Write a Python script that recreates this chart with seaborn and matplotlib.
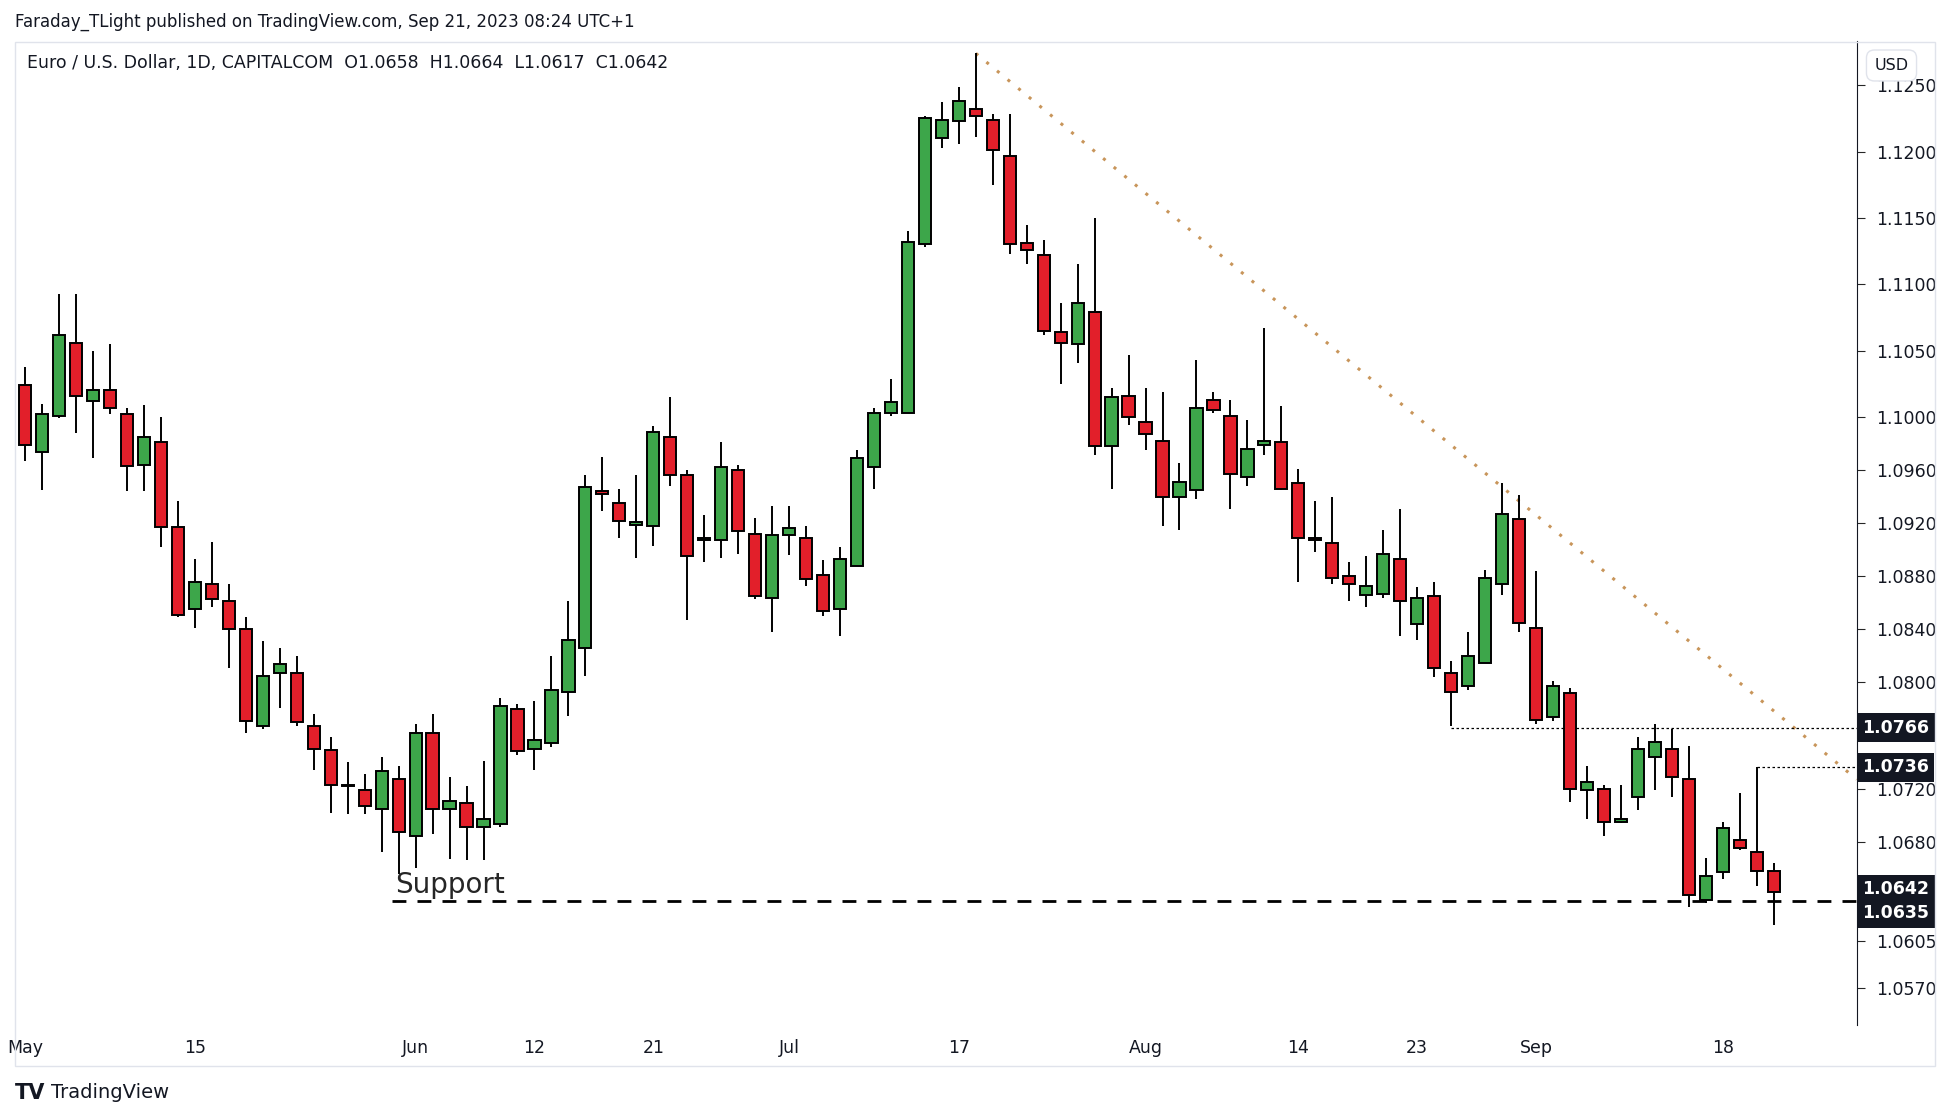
import numpy as np
import pandas as pd
import matplotlib.pyplot as plt
import seaborn as sns

# daily EURUSD candles, May 1 - Sep 21 2023
opens = [1.1024, 1.0974, 1.1001, 1.1056, 1.1012, 1.1020, 1.1002, 1.0964, 1.0981, 1.0917,
         1.0855, 1.0874, 1.0861, 1.0840, 1.0767, 1.0807, 1.0807, 1.0767, 1.0749, 1.0723,
         1.0719, 1.0705, 1.0727, 1.0684, 1.0762, 1.0705, 1.0709, 1.0691, 1.0693, 1.0780,
         1.0750, 1.0754, 1.0793, 1.0826, 1.0944, 1.0935, 1.0919, 1.0918, 1.0985, 1.0956,
         1.0907, 1.0907, 1.0960, 1.0912, 1.0864, 1.0911, 1.0909, 1.0881, 1.0855, 1.0888,
         1.0962, 1.1003, 1.1003, 1.1130, 1.1210, 1.1223, 1.1232, 1.1224, 1.1197, 1.1131,
         1.1122, 1.1064, 1.1055, 1.1079, 1.0978, 1.1016, 1.0996, 1.0982, 1.0940, 1.0945,
         1.1013, 1.1001, 1.0955, 1.0979, 1.0981, 1.0950, 1.0909, 1.0905, 1.0880, 1.0866,
         1.0867, 1.0893, 1.0844, 1.0865, 1.0807, 1.0797, 1.0815, 1.0874, 1.0923, 1.0841,
         1.0774, 1.0792, 1.0719, 1.0720, 1.0695, 1.0714, 1.0744, 1.0750, 1.0727, 1.0636,
         1.0657, 1.0681, 1.0672, 1.0658]
highs = [1.1038, 1.1010, 1.1093, 1.1093, 1.1050, 1.1055, 1.1007, 1.1009, 1.1000, 1.0937,
         1.0893, 1.0906, 1.0874, 1.0849, 1.0831, 1.0826, 1.0820, 1.0776, 1.0759, 1.0740,
         1.0731, 1.0744, 1.0737, 1.0769, 1.0776, 1.0729, 1.0722, 1.0741, 1.0788, 1.0784,
         1.0786, 1.0820, 1.0861, 1.0956, 1.0970, 1.0946, 1.0956, 1.0993, 1.1015, 1.0960,
         1.0926, 1.0981, 1.0964, 1.0924, 1.0933, 1.0933, 1.0918, 1.0892, 1.0902, 1.0975,
         1.1007, 1.1029, 1.1140, 1.1227, 1.1237, 1.1249, 1.1274, 1.1228, 1.1228, 1.1145,
         1.1133, 1.1086, 1.1115, 1.1150, 1.1022, 1.1047, 1.1022, 1.1019, 1.0965, 1.1043,
         1.1019, 1.1013, 1.0998, 1.1067, 1.1008, 1.0961, 1.0937, 1.0940, 1.0891, 1.0895,
         1.0915, 1.0931, 1.0872, 1.0876, 1.0816, 1.0838, 1.0885, 1.0950, 1.0941, 1.0884,
         1.0801, 1.0796, 1.0737, 1.0723, 1.0723, 1.0759, 1.0769, 1.0765, 1.0752, 1.0668,
         1.0695, 1.0717, 1.0736, 1.0664]
lows = [1.0967, 1.0945, 1.0999, 1.0988, 1.0969, 1.1002, 1.0944, 1.0944, 1.0902, 1.0849,
        1.0841, 1.0857, 1.0811, 1.0762, 1.0765, 1.0781, 1.0767, 1.0734, 1.0702, 1.0701,
        1.0701, 1.0672, 1.0656, 1.0660, 1.0686, 1.0667, 1.0666, 1.0666, 1.0691, 1.0745,
        1.0734, 1.0751, 1.0775, 1.0805, 1.0929, 1.0909, 1.0894, 1.0903, 1.0948, 1.0847,
        1.0891, 1.0894, 1.0897, 1.0863, 1.0838, 1.0896, 1.0873, 1.0850, 1.0835, 1.0888,
        1.0946, 1.1001, 1.1003, 1.1128, 1.1203, 1.1206, 1.1211, 1.1175, 1.1123, 1.1115,
        1.1062, 1.1025, 1.1041, 1.0971, 1.0946, 1.0994, 1.0975, 1.0918, 1.0915, 1.0938,
        1.1003, 1.0931, 1.0948, 1.0971, 1.0945, 1.0876, 1.0898, 1.0874, 1.0861, 1.0857,
        1.0864, 1.0835, 1.0832, 1.0804, 1.0767, 1.0794, 1.0815, 1.0866, 1.0838, 1.0769,
        1.0771, 1.0710, 1.0697, 1.0684, 1.0694, 1.0704, 1.0719, 1.0714, 1.0631, 1.0634,
        1.0652, 1.0674, 1.0647, 1.0617]
closes = [1.0979, 1.1002, 1.1062, 1.1016, 1.1020, 1.1007, 1.0963, 1.0985, 1.0917, 1.0851,
          1.0876, 1.0863, 1.0840, 1.0771, 1.0805, 1.0814, 1.0770, 1.0750, 1.0723, 1.0722,
          1.0707, 1.0733, 1.0687, 1.0762, 1.0705, 1.0711, 1.0691, 1.0697, 1.0782, 1.0748,
          1.0757, 1.0794, 1.0832, 1.0947, 1.0942, 1.0922, 1.0921, 1.0989, 1.0956, 1.0895,
          1.0909, 1.0962, 1.0914, 1.0865, 1.0911, 1.0916, 1.0878, 1.0854, 1.0893, 1.0969,
          1.1003, 1.1011, 1.1132, 1.1225, 1.1224, 1.1238, 1.1227, 1.1201, 1.1130, 1.1126,
          1.1065, 1.1056, 1.1086, 1.0978, 1.1015, 1.1000, 1.0987, 1.0940, 1.0951, 1.1007,
          1.1005, 1.0957, 1.0976, 1.0982, 1.0946, 1.0909, 1.0907, 1.0879, 1.0874, 1.0873,
          1.0897, 1.0861, 1.0864, 1.0811, 1.0793, 1.0820, 1.0879, 1.0927, 1.0845, 1.0772,
          1.0797, 1.0720, 1.0725, 1.0695, 1.0697, 1.0750, 1.0755, 1.0729, 1.0640, 1.0654,
          1.0690, 1.0675, 1.0658, 1.0642]

date_tick_idx = [0, 10, 23, 30, 37, 45, 55, 66, 75, 82, 89, 100]
date_tick_labels = ["May", "15", "Jun", "12", "21", "Jul", "17", "Aug", "14", "23", "Sep", "18"]
price_ticks = [1.0570, 1.0605, 1.0680, 1.0720, 1.0800, 1.0840, 1.0880, 1.0920, 1.0960,
               1.1000, 1.1050, 1.1100, 1.1150, 1.1200, 1.1250]

support = 1.0635
level_a = 1.0766
level_b = 1.0736
last_close = 1.0642

df = pd.DataFrame({"open": opens, "high": highs, "low": lows, "close": closes})
df["idx"] = np.arange(len(df))
df["up"] = df["close"] >= df["open"]

sns.set_style("white")
fig = plt.figure(figsize=(19.5, 11.1), dpi=100)
ax = fig.add_axes([0.0077, 0.0767, 0.9445, 0.886])

GREEN = "#3da64a"
RED = "#e21f2a"

ax.vlines(df["idx"], df["low"], df["high"], color="black", lw=1.4, zorder=2)
body_lo = df[["open", "close"]].min(axis=1)
body_h = (df["close"] - df["open"]).abs().clip(lower=0.00008)
ax.bar(df["idx"], body_h, bottom=body_lo, width=0.72,
       color=np.where(df["up"], GREEN, RED), edgecolor="black", lw=1.4, zorder=3)

xmax = 107.9
# support line
ax.hlines(support, 22 - 0.4, xmax, color="black", lw=2, linestyles=(0, (5, 4)), zorder=1)
ax.text(22 - 0.2, support + 0.0002, "Support", fontsize=20, va="bottom", ha="left")
# recent levels
ax.hlines(level_a, 84, xmax, color="black", lw=0.9, linestyles=(0, (2, 2)))
ax.hlines(level_b, 102, xmax, color="black", lw=0.9, linestyles=(0, (2, 2)))
# trendline from the July high
ax.plot([56, xmax], [highs[56], 1.0727], color="#c8955a", lw=2.2,
        linestyle=(0, (1, 3.5)), zorder=1)

ax.set_xlim(-0.6, xmax)
ax.set_ylim(1.0542, 1.1283)
ax.set_xticks(date_tick_idx)
ax.set_xticklabels(date_tick_labels, fontsize=12.5, color="#131722")
ax.set_yticks(price_ticks)
ax.set_yticklabels([f"{p:.4f}" for p in price_ticks], fontsize=12.5, color="#131722")
ax.yaxis.tick_right()
ax.tick_params(axis="y", length=6, pad=8, direction="out")
ax.tick_params(axis="x", length=0, pad=10)
for s in ["top", "left", "bottom"]:
    ax.spines[s].set_visible(False)
ax.spines["right"].set_color("#131722")

# price labels on axis
for val, ypos in [(level_a, level_a), (level_b, level_b), (last_close, 1.06445), (support, 1.0626)]:
    ax.annotate(f"{val:.4f}", xy=(1.0, ypos), xycoords=("axes fraction", "data"),
                xytext=(4, 0), textcoords="offset points", fontsize=12.5, fontweight="bold",
                color="white", va="center", ha="left",
                bbox=dict(boxstyle="square,pad=0.3", fc="#131722", ec="none"))

# frame and texts
fig.patches.append(plt.Rectangle((0.0077, 0.04), 0.9845, 0.922, transform=fig.transFigure,
                                 fill=False, ec="#e0e3eb", lw=1))
fig.text(0.0077, 0.98, "Faraday_TLight published on TradingView.com, Sep 21, 2023 08:24 UTC+1",
         fontsize=12, color="#131722", va="center")
fig.text(0.014, 0.943, "Euro / U.S. Dollar, 1D, CAPITALCOM  O1.0658  H1.0664  L1.0617  C1.0642",
         fontsize=12.5, color="#131722", va="center")
fig.text(0.970, 0.941, "USD", fontsize=11.5, color="#131722", va="center", ha="center",
         bbox=dict(boxstyle="round,pad=0.5", fc="white", ec="#e0e3eb"))
fig.text(0.0077, 0.0155, "TV", fontsize=15, fontweight="bold", color="#131722", va="center")
fig.text(0.026, 0.0155, "TradingView", fontsize=14, color="#131722", va="center")

fig.savefig("out.png", dpi=100)
